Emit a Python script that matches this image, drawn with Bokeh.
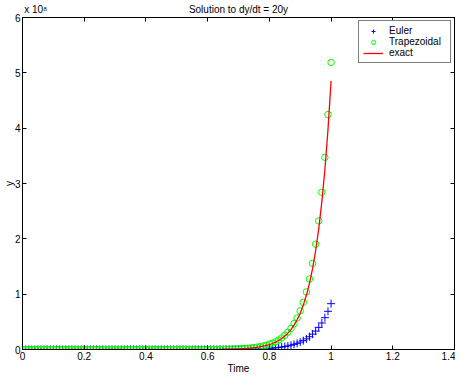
from bokeh.plotting import figure
from bokeh.models import (LinearAxis, FixedTicker, Range1d, Legend, LegendItem)
from bokeh.embed import file_html
from bokeh.resources import INLINE

# ---------------- data ----------------
time = [0.00, 0.01, 0.02, 0.03, 0.04, 0.05, 0.06, 0.07, 0.08, 0.09,
        0.10, 0.11, 0.12, 0.13, 0.14, 0.15, 0.16, 0.17, 0.18, 0.19,
        0.20, 0.21, 0.22, 0.23, 0.24, 0.25, 0.26, 0.27, 0.28, 0.29,
        0.30, 0.31, 0.32, 0.33, 0.34, 0.35, 0.36, 0.37, 0.38, 0.39,
        0.40, 0.41, 0.42, 0.43, 0.44, 0.45, 0.46, 0.47, 0.48, 0.49,
        0.50, 0.51, 0.52, 0.53, 0.54, 0.55, 0.56, 0.57, 0.58, 0.59,
        0.60, 0.61, 0.62, 0.63, 0.64, 0.65, 0.66, 0.67, 0.68, 0.69,
        0.70, 0.71, 0.72, 0.73, 0.74, 0.75, 0.76, 0.77, 0.78, 0.79,
        0.80, 0.81, 0.82, 0.83, 0.84, 0.85, 0.86, 0.87, 0.88, 0.89,
        0.90, 0.91, 0.92, 0.93, 0.94, 0.95, 0.96, 0.97, 0.98, 0.99,
        1.00]

euler = [1, 1.2, 1.44, 1.728, 2.0736, 2.4883, 2.986, 3.5832, 4.2998, 5.1598,
         6.1917, 7.4301, 8.9161, 10.699, 12.839, 15.407, 18.488, 22.186, 26.623, 31.948,
         38.338, 46.005, 55.206, 66.247, 79.497, 95.396, 114.48, 137.37, 164.84, 197.81,
         237.38, 284.85, 341.82, 410.19, 492.22, 590.67, 708.8, 850.56, 1020.7, 1224.8,
         1469.8, 1763.7, 2116.4, 2539.7, 3047.6, 3657.2, 4388.6, 5266.3, 6319.6, 7583.5,
         9100.4, 10920, 13105, 15726, 18871, 22645, 27174, 32609, 39130, 46956,
         56348, 67617, 81141, 97369, 116843, 140211, 168254, 201905, 242286, 290743,
         348889, 418667, 502400, 602880, 723456, 868147, 1041777, 1250132, 1500158, 1800190,
         2160228, 2592274, 3110729, 3732874, 4479449, 5375339, 6450407, 7740488, 9288586, 11146303,
         13375564, 16050677, 19260812, 23112974, 27735569, 33282683, 39939220, 47927064, 57512477, 69014972,
         82817966]

trapezoidal = [1, 1.2222, 1.4938, 1.8258, 2.2315, 2.7274, 3.3335, 4.0743, 4.9797, 6.0863,
               7.4388, 9.0919, 11.112, 13.582, 16.600, 20.289, 24.798, 30.309, 37.044, 45.276,
               55.337, 67.632, 82.661, 101.03, 123.48, 150.92, 184.46, 225.46, 275.56, 336.79,
               411.63, 503.10, 614.90, 751.55, 918.55, 1122.6, 1372.1, 1677.1, 2049.8, 2505.3,
               3062.1, 3742.5, 4574.2, 5590.6, 6832.9, 8351.4, 10207, 12475, 15248, 18637,
               22777, 27839, 34026, 41588, 50829, 62124, 75929, 92803, 113425, 138630,
               169438, 207090, 253111, 309359, 378104, 462127, 564821, 690337, 843752, 1031250,
               1260414, 1540501, 1882846, 2301247, 2812649, 3437666, 4201611, 5135271, 6276470, 7671265,
               9375912, 1.1459e7, 1.4006e7, 1.7118e7, 2.0922e7, 2.5572e7, 3.1255e7, 3.8200e7, 4.6689e7, 5.7064e7,
               6.9744e7, 8.5243e7, 1.0419e8, 1.2734e8, 1.5564e8, 1.9022e8, 2.3249e8, 2.8416e8, 3.4730e8, 4.2448e8,
               5.1883e8]

exact = [1, 1.2214, 1.4918, 1.8221, 2.2255, 2.7183, 3.3201, 4.0552, 4.9530, 6.0496,
         7.3891, 9.0250, 11.023, 13.464, 16.445, 20.086, 24.533, 29.964, 36.598, 44.701,
         54.598, 66.686, 81.451, 99.484, 121.51, 148.41, 181.27, 221.41, 270.43, 330.30,
         403.43, 492.75, 601.85, 735.10, 897.85, 1096.6, 1339.4, 1636.0, 1998.2, 2440.6,
         2981.0, 3641.0, 4447.1, 5431.7, 6634.2, 8103.1, 9897.1, 12088, 14765, 18034,
         22026, 26903, 32860, 40135, 49021, 59874, 73130, 89322, 109097, 133252,
         162755, 198789, 242802, 296559, 362217, 442413, 540364, 660003, 806130, 984609,
         1202604, 1468864, 1794075, 2191288, 2676445, 3269017, 3992786, 4876801, 5956538, 7275343,
         8886111, 1.0853e7, 1.3256e7, 1.6191e7, 1.9776e7, 2.4155e7, 2.9503e7, 3.6035e7, 4.4013e7, 5.3757e7,
         6.5659e7, 8.0196e7, 9.7952e7, 1.1964e8, 1.4613e8, 1.7848e8, 2.1799e8, 2.6626e8, 3.2521e8, 3.9721e8,
         4.8517e8]

x_ticks = [0, 0.2, 0.4, 0.6, 0.8, 1.0, 1.2, 1.4]
x_tick_labels = ["0", "0.2", "0.4", "0.6", "0.8", "1", "1.2", "1.4"]
y_ticks = [0, 100000000, 200000000, 300000000, 400000000, 500000000, 600000000]
y_tick_labels = ["0", "1", "2", "3", "4", "5", "6"]

title_text = "Solution to dy/dt = 20y"
exponent_text = "x 10\u2078"
x_label = "Time"
y_label = "y"
series_names = ["Euler", "Trapezoidal", "exact"]

# ---------------- figure ----------------
W, H = 455, 376
X0, X1, Y0, Y1 = 0, 1.4, 0, 6e8
FONT = "Liberation Sans"

p = figure(width=W, height=H, x_range=Range1d(X0, X1), y_range=Range1d(Y0, Y1),
           x_axis_type=None, y_axis_type=None, output_backend="svg",
           toolbar_location=None, min_border_left=0, min_border_right=1,
           min_border_top=0, min_border_bottom=0)
p.background_fill_color = "white"
p.border_fill_color = "white"
p.outline_line_color = "black"
p.outline_line_width = 1


def make_axis(ticks, labels, show, axis_label=None, label_standoff=0):
    ax = LinearAxis(ticker=FixedTicker(ticks=ticks, minor_ticks=[]),
                    major_label_overrides=dict(zip(ticks, labels)) if show else {},
                    major_tick_in=4, major_tick_out=0,
                    minor_tick_in=0, minor_tick_out=0,
                    axis_line_color="black", major_tick_line_color="black",
                    major_label_text_font=FONT,
                    major_label_text_color="black",
                    major_label_text_font_size="10px" if show else "0px",
                    major_label_standoff=2 if show else 0)
    if not show:
        ax.major_label_text_alpha = 0
    if axis_label is not None:
        ax.axis_label = axis_label
        ax.axis_label_text_font = FONT
        ax.axis_label_text_font_size = "10px"
        ax.axis_label_text_font_style = "normal"
        ax.axis_label_text_color = "black"
        ax.axis_label_standoff = label_standoff
    return ax


p.add_layout(make_axis(x_ticks, x_tick_labels, True, x_label, 0), "below")
p.add_layout(make_axis(y_ticks, y_tick_labels, True, y_label, -3), "left")
p.add_layout(make_axis(x_ticks, x_tick_labels, False), "above")
p.add_layout(make_axis(y_ticks, y_tick_labels, False), "right")

# texts above the frame: the exponent marker near the left edge, title centred
text_pos = [0.043, (X0 + X1) / 2]
text_axis = LinearAxis(ticker=FixedTicker(ticks=text_pos, minor_ticks=[]),
                       major_label_overrides=dict(zip(text_pos, [exponent_text, title_text])),
                       major_tick_line_color=None, axis_line_color=None,
                       minor_tick_line_color=None,
                       major_tick_in=0, major_tick_out=0,
                       major_label_standoff=3, major_label_text_font=FONT,
                       major_label_text_font_size="10px",
                       major_label_text_color="black")
p.add_layout(text_axis, "above")

r_euler = p.scatter(time, euler, marker="cross", size=8,
                    line_color="#0000ff", line_width=1)
r_trap = p.scatter(time, trapezoidal, marker="circle", size=6.5,
                   line_color="#00ff00", fill_color=None, line_width=1)
r_exact = p.line(time, exact, line_color="#ff0000", line_width=1.3)

legend = Legend(items=[LegendItem(label=series_names[0], renderers=[r_euler]),
                       LegendItem(label=series_names[1], renderers=[r_trap]),
                       LegendItem(label=series_names[2], renderers=[r_exact])],
                location="top_right", margin=3, padding=4, spacing=0,
                label_height=10, glyph_height=10, glyph_width=20,
                label_width=57, label_standoff=6, label_text_font=FONT,
                label_text_font_size="10px", label_text_color="black",
                border_line_color="black", border_line_width=1,
                background_fill_color="white", background_fill_alpha=1)
p.add_layout(legend)

open("out.html", "w").write(file_html(p, INLINE))
